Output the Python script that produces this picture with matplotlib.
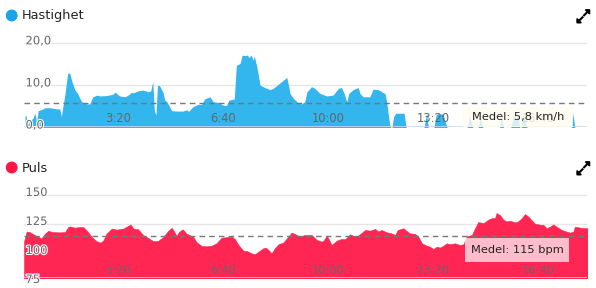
import matplotlib
matplotlib.use("Agg")
import matplotlib.pyplot as plt
from matplotlib.patches import Rectangle, Ellipse, Polygon
from matplotlib.lines import Line2D
from matplotlib.transforms import offset_copy, blended_transform_factory
import matplotlib.patheffects as pe

# ---------------- data ----------------
speed_t = [24, 26, 29, 33, 39, 43, 46, 49, 56, 62, 71, 81, 88, 90, 93, 100, 105, 109, 113, 119,
           124, 128, 132, 142, 147, 153, 161, 166, 180, 191, 195, 204, 214, 220, 227, 229, 239,
           248, 258, 263, 267, 270, 273, 276, 280, 286, 290, 294, 303, 313, 324, 332, 335, 343,
           353, 360, 366, 376, 382, 391, 401, 407, 412, 422, 426, 433, 437, 442, 447, 450, 454,
           458, 460, 465, 471, 480, 490, 496, 503, 512, 522, 525, 528, 534, 544, 550, 556, 560,
           569, 575, 585, 598, 610, 620, 626, 631, 636, 640, 648, 658, 661, 667, 680, 686, 696,
           709, 712, 715, 718, 720, 722, 725, 729, 745, 749, 783, 788, 791, 802, 806, 810, 819,
           823, 827, 865, 870, 876, 886, 890, 895, 927, 930, 934, 948, 954, 958, 962, 965, 968,
           973, 979, 1063, 1066, 1070, 1093]
speed_v = [2.8, 2.8, 0.8, 1.5, 2.2, 3.4, 1.2, 4.0, 4.3, 4.7, 4.7, 4.5, 4.4, 4.4, 2.6, 8.0, 12.9,
           12.9, 11.0, 8.9, 8.1, 7.0, 6.1, 5.6, 5.6, 7.3, 7.7, 7.5, 7.6, 7.9, 8.4, 7.5, 7.3, 7.7,
           8.4, 8.2, 8.7, 8.9, 8.5, 8.7, 10.9, 4.0, 2.9, 10.1, 9.9, 8.5, 6.5, 6.1, 4.0, 3.9, 3.9,
           4.2, 3.8, 4.9, 5.5, 5.5, 6.8, 7.3, 6.1, 6.0, 5.3, 5.2, 6.5, 6.8, 14.8, 15.2, 17.2, 17.1,
           17.2, 16.6, 17.2, 16.0, 17.0, 14.4, 10.1, 9.5, 9.0, 9.3, 10.0, 10.9, 11.9, 10.1, 8.1,
           7.0, 5.8, 5.6, 6.1, 8.4, 9.7, 9.3, 8.1, 7.5, 7.7, 9.3, 9.5, 8.1, 6.1, 8.1, 9.0, 9.5,
           8.1, 7.3, 7.3, 9.1, 9.0, 8.0, 6.1, 3.0, 0.5, 0, 0, 2.5, 3.4, 3.4, 0, 0, 3.5, 0, 0, 3.0,
           3.3, 3.2, 1.5, 0, 0, 2.7, 0, 0, 2.4, 0, 0, 2.7, 0, 0, 3.0, 2.2, 3.0, 0, 0, 2.9, 0, 0,
           3.4, 0, 0]

pulse_t = [22, 27, 33, 43, 52, 55, 62, 68, 77, 90, 100, 106, 109, 119, 128, 135, 141, 151, 160,
           168, 173, 179, 189, 198, 211, 220, 225, 230, 239, 249, 258, 268, 277, 287, 296, 303,
           307, 312, 317, 324, 331, 344, 350, 360, 369, 379, 388, 398, 407, 417, 423, 430, 439,
           446, 455, 461, 468, 477, 482, 487, 493, 499, 506, 515, 525, 531, 537, 547, 556, 569,
           579, 588, 591, 598, 602, 607, 617, 626, 633, 642, 648, 655, 661, 671, 680, 690, 696,
           702, 712, 721, 728, 733, 744, 750, 756, 766, 772, 779, 788, 794, 801, 807, 813, 820,
           826, 832, 842, 851, 858, 864, 874, 880, 886, 896, 905, 912, 918, 921, 928, 934, 940,
           947, 956, 962, 969, 975, 981, 988, 994, 1004, 1010, 1016, 1023, 1029, 1035, 1045,
           1054, 1061, 1067, 1070, 1080, 1089, 1096]
pulse_v = [109.7, 118.4, 118.0, 115.3, 113.3, 112.4, 116.7, 119.0, 118.0, 117.7, 118.0, 122.3,
           122.9, 121.8, 122.3, 122.3, 119.5, 113.8, 110.1, 108.9, 110.9, 116.7, 121.0, 120.1,
           121.0, 123.3, 124.5, 121.0, 120.4, 115.3, 113.0, 110.1, 110.4, 113.8, 119.0, 121.6,
           119.0, 114.7, 118.2, 120.4, 116.7, 113.8, 109.4, 106.0, 105.7, 106.3, 108.3, 113.2,
           113.5, 114.1, 112.1, 106.9, 102.0, 101.7, 99.7, 98.8, 101.1, 104.0, 104.6, 102.6, 99.7,
           104.0, 107.5, 108.9, 114.1, 117.5, 116.4, 114.1, 115.5, 115.5, 111.2, 109.8, 110.3,
           114.7, 111.8, 106.9, 110.6, 112.1, 111.8, 116.1, 114.9, 114.1, 116.1, 119.8, 119.2,
           120.7, 118.4, 119.8, 117.8, 116.9, 115.5, 119.8, 121.3, 118.9, 116.9, 116.4, 114.1,
           108.3, 106.3, 105.4, 103.4, 105.4, 104.6, 106.3, 108.3, 107.5, 108.3, 106.9, 107.5,
           114.1, 115.5, 121.3, 126.6, 125.7, 128.6, 130.0, 130.0, 134.4, 132.4, 128.6, 127.2,
           127.8, 126.3, 127.2, 130.0, 133.5, 131.5, 128.1, 125.2, 124.3, 124.3, 121.3, 122.7,
           124.6, 122.7, 119.8, 118.4, 117.5, 118.4, 122.7, 121.8, 121.3, 121.3]

tick_seconds = [200, 400, 600, 800, 1000]
tick_labels = ["3:20", "6:40", "10:00", "13:20", "16:40"]
speed_yticks = [0, 10, 20]
speed_ylabels = ["0,0", "10,0", "20,0"]
pulse_yticks = [75, 100, 125, 150]
pulse_ylabels = ["75", "100", "125", "150"]
speed_mean = 5.8
pulse_mean = 115
speed_title = "Hastighet"
pulse_title = "Puls"
speed_mean_label = "Medel: 5,8 km/h"
pulse_mean_label = "Medel: 115 bpm"

# ---------------- styling ----------------
W, H = 596, 288
BLUE = "#33b5ed"
BLUE_DOT = "#1aa3e8"
RED = "#ff2654"
RED_DOT = "#ff1744"
GRID = "#e6e6e6"
AXLINE = "#ccd6eb"
LABEL = "#666666"

plt.rcParams["font.family"] = ["DejaVu Sans"]

fig = plt.figure(figsize=(W / 100, H / 100), dpi=100)
fig.patch.set_facecolor("white")


def fx(px):
    return px / W


def fy(py):
    return 1 - py / H


XLIM = (22, 1094)


def make_axes(bottom_py, top_py):
    ax = fig.add_axes([fx(24), fy(bottom_py), fx(587.5) - fx(24), (bottom_py - top_py) / H])
    ax.set_xlim(*XLIM)
    for s in ax.spines.values():
        s.set_visible(False)
    ax.set_xticks([])
    ax.set_yticks([])
    ax.patch.set_alpha(0)
    return ax


def decorate(ax, yticks, ylabels, grid_vals, mean, x_lab_off, base_y):
    for g in grid_vals:
        ax.axhline(g, color=GRID, lw=1, zorder=0.5)
    ax.axhline(base_y, color=AXLINE, lw=1.2, zorder=2.5)
    ax.axhline(mean, color="#777777", lw=1, ls=(0, (4, 3)), zorder=3)
    ytr = offset_copy(ax.get_yaxis_transform(), fig=fig, x=1.5, y=2.5, units="dots")
    for v, lab in zip(yticks, ylabels):
        ax.text(0, v, lab, transform=ytr, ha="left", va="center", fontsize=8.3,
                color=LABEL, zorder=4,
                path_effects=[pe.withStroke(linewidth=1.6, foreground="white")])
    xtr = offset_copy(blended_transform_factory(ax.transData, ax.transAxes), fig=fig,
                      x=0, y=x_lab_off, units="dots")
    for t, lab in zip(tick_seconds, tick_labels):
        ax.text(t, 0, lab, transform=xtr, ha="center", va="center", fontsize=8.3,
                color=LABEL, zorder=4)


# ---- speed chart ----
ax1 = make_axes(127.5, 30.7)
ax1.set_ylim(0, 23)
ax1.fill_between(speed_t, speed_v, 0, color=BLUE, lw=0, zorder=2)
decorate(ax1, speed_yticks, speed_ylabels, [10, 20], speed_mean, 8.5, 0)

# ---- pulse chart ----
ax2 = make_axes(278, 183.3)
ax2.set_ylim(78.4, 160)
ax2.fill_between(pulse_t, pulse_v, 70, color=RED, lw=0.4, edgecolor=RED, zorder=2)
decorate(ax2, pulse_yticks, pulse_ylabels, [125, 150], pulse_mean, 7, 78.4)

# ---- titles with dots ----
for py, title, col in [(16, speed_title, BLUE_DOT), (168, pulse_title, RED_DOT)]:
    fig.add_artist(Ellipse((fx(11.7), fy(py - 0.5)), width=10.5 / W, height=10.5 / H,
                           color=col, transform=fig.transFigure))
    fig.text(fx(22), fy(py), title, ha="left", va="center", fontsize=9.3, color="#222222")


# ---- expand icons ----
def expand_icon(cy):
    cx = 583.3
    # top-right arrow
    fig.add_artist(Polygon([(fx(cx + 6.3), fy(cy - 6.5)), (fx(cx + 6.3), fy(cy - 2.3)),
                            (fx(cx + 2.1), fy(cy - 6.5))], closed=True, color="black",
                           transform=fig.transFigure))
    fig.add_artist(Line2D([fx(cx + 3.8), fx(cx + 0.8)], [fy(cy - 4.0), fy(cy - 1.0)],
                          color="black", lw=1.5, transform=fig.transFigure))
    # bottom-left arrow
    fig.add_artist(Polygon([(fx(cx - 6.3), fy(cy + 6.5)), (fx(cx - 6.3), fy(cy + 2.3)),
                            (fx(cx - 2.1), fy(cy + 6.5))], closed=True, color="black",
                           transform=fig.transFigure))
    fig.add_artist(Line2D([fx(cx - 3.8), fx(cx - 0.8)], [fy(cy + 4.0), fy(cy + 1.0)],
                          color="black", lw=1.5, transform=fig.transFigure))


expand_icon(16.3)
expand_icon(168.3)


# ---- mean tooltips ----
def tooltip(x0, y0, x1, y1, text, fc, alpha):
    fig.add_artist(Rectangle((fx(x0), fy(y1)), fx(x1) - fx(x0), (y1 - y0) / H,
                             transform=fig.transFigure, facecolor=fc, edgecolor="none",
                             alpha=alpha, zorder=5))
    fig.text(fx((x0 + x1) / 2), fy((y0 + y1) / 2), text, ha="center", va="center",
             fontsize=8.2, color="#222222", zorder=6)


tooltip(463, 107, 573, 127, speed_mean_label, "#fffdf0", 0.82)
tooltip(465, 238, 569, 262, pulse_mean_label, "#ffffff", 0.7)

fig.savefig("out.png", dpi=100)
